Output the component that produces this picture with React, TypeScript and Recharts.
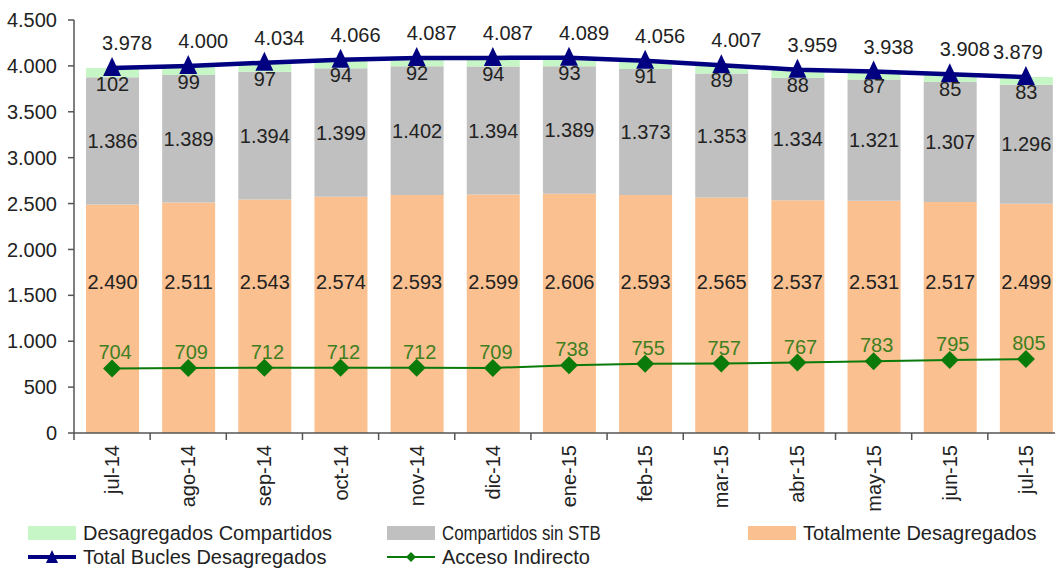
import React from 'react';
import { ComposedChart, Bar, Line, XAxis, YAxis, Legend, LabelList } from 'recharts';

const months = ['jul-14', 'ago-14', 'sep-14', 'oct-14', 'nov-14', 'dic-14', 'ene-15', 'feb-15', 'mar-15', 'abr-15', 'may-15', 'jun-15', 'jul-15'];
const totalmenteDesagregados = [2490, 2511, 2543, 2574, 2593, 2599, 2606, 2593, 2565, 2537, 2531, 2517, 2499];
const compartidosSinSTB = [1386, 1389, 1394, 1399, 1402, 1394, 1389, 1373, 1353, 1334, 1321, 1307, 1296];
const desagregadosCompartidos = [102, 99, 97, 94, 92, 94, 93, 91, 89, 88, 87, 85, 83];
const totalBucles = [3978, 4000, 4034, 4066, 4087, 4087, 4089, 4056, 4007, 3959, 3938, 3908, 3879];
const accesoIndirecto = [704, 709, 712, 712, 712, 709, 738, 755, 757, 767, 783, 795, 805];
const yTicks = [0, 500, 1000, 1500, 2000, 2500, 3000, 3500, 4000, 4500];

const data = months.map((m, i) => ({
  month: m,
  totalmente: totalmenteDesagregados[i],
  sinStb: compartidosSinSTB[i],
  compartidos: desagregadosCompartidos[i],
  total: totalBucles[i],
  acceso: accesoIndirecto[i],
}));

const CHART_W = 1064;
const CHART_H = 568;
const Y_AXIS_W = 74;
const PLOT_W = CHART_W - Y_AXIS_W;
const HALF_BAND = PLOT_W / months.length / 2;
const FONT = '"Liberation Sans", Arial, sans-serif';
const FS = 20;
const LABEL_LEVEL = 1650;

const C_PEACH = '#FAC090';
const C_GRAY = '#C0C0C0';
const C_LGREEN = '#C6F5C6';
const C_NAVY = '#000080';
const C_GREEN = '#0A7A0A';
const C_GREEN_LABEL = '#3F7F1F';
const C_TEXT = '#222';
const C_AXIS = '#555';

const fmt = (v: number) => String(Math.round(v)).replace(/\B(?=(\d{3})+(?!\d))/g, '.');

const PeachLabel = (p: any) => {
  const x = Number(p.x), y = Number(p.y), w = Number(p.width), h = Number(p.height), v = Number(p.value);
  const ly = y + h - (h * LABEL_LEVEL) / v;
  return (
    <text x={x + w / 2} y={ly} textAnchor="middle" dominantBaseline="central" fill={C_TEXT} fontSize={FS} fontFamily={FONT}>
      {fmt(v)}
    </text>
  );
};

const CenterLabel = (p: any) => {
  const x = Number(p.x), y = Number(p.y), w = Number(p.width), h = Number(p.height);
  return (
    <text x={x + w / 2} y={y + h / 2} textAnchor="middle" dominantBaseline="central" fill={C_TEXT} fontSize={FS} fontFamily={FONT}>
      {fmt(Number(p.value))}
    </text>
  );
};

const BelowLabel = (p: any) => {
  const x = Number(p.x), y = Number(p.y), w = Number(p.width), h = Number(p.height);
  return (
    <text x={x + w / 2} y={y + h + 7} textAnchor="middle" dominantBaseline="central" fill={C_TEXT} fontSize={FS} fontFamily={FONT}>
      {fmt(Number(p.value))}
    </text>
  );
};

const TotalLabel = (p: any) => {
  const x = Number(p.x), y = Number(p.y);
  const last = p.index === months.length - 1;
  return (
    <text x={last ? x - 8 : x + 15} y={y - 25} textAnchor="middle" dominantBaseline="central" fill={C_TEXT} fontSize={FS} fontFamily={FONT}>
      {fmt(Number(p.value))}
    </text>
  );
};

const AccesoLabel = (p: any) => {
  const x = Number(p.x), y = Number(p.y);
  return (
    <text x={x + 3} y={y - 16} textAnchor="middle" dominantBaseline="central" fill={C_GREEN_LABEL} fontSize={FS} fontFamily={FONT}>
      {fmt(Number(p.value))}
    </text>
  );
};

const TriangleDot = (p: any) => {
  const { cx, cy, index } = p;
  if (cx == null || cy == null) return <g key={`t${index}`} />;
  return <polygon key={`t${index}`} points={`${cx},${cy - 11} ${cx - 9},${cy + 8} ${cx + 9},${cy + 8}`} fill={C_NAVY} />;
};

const DiamondDot = (p: any) => {
  const { cx, cy, index } = p;
  if (cx == null || cy == null) return <g key={`d${index}`} />;
  const r = 9;
  return <polygon key={`d${index}`} points={`${cx},${cy - r} ${cx + r},${cy} ${cx},${cy + r} ${cx - r},${cy}`} fill={C_GREEN} />;
};

const XTick = (p: any) => {
  const { x, y, payload } = p;
  const ty = y + 12;
  return (
    <g>
      <line x1={x - HALF_BAND} x2={x - HALF_BAND} y1={y} y2={y + 7} stroke={C_AXIS} strokeWidth={1.5} />
      <text x={x} y={ty} transform={`rotate(-90 ${x} ${ty})`} textAnchor="end" dominantBaseline="central" fill={C_TEXT} fontSize={FS} fontFamily={FONT}>
        {payload.value}
      </text>
    </g>
  );
};

const Swatch = ({ color }: { color: string }) => (
  <svg width={48} height={14} style={{ display: 'block' }}>
    <rect x={0} y={0} width={48} height={14} fill={color} />
  </svg>
);

const LineIcon = ({ color, kind }: { color: string; kind: 'tri' | 'dia' }) => (
  <svg width={48} height={14} style={{ display: 'block' }}>
    <line x1={0} x2={48} y1={7} y2={7} stroke={color} strokeWidth={kind === 'tri' ? 4 : 2} />
    {kind === 'tri' ? (
      <polygon points="24,0 18,13 30,13" fill={color} />
    ) : (
      <polygon points="24,2 29,7 24,12 19,7" fill={color} />
    )}
  </svg>
);

const legendRow1 = [
  { name: 'Desagregados Compartidos', color: C_LGREEN, left: 28, squeeze: 1 },
  { name: 'Compartidos sin STB', color: C_GRAY, left: 387, squeeze: 0.84 },
  { name: 'Totalmente Desagregados', color: C_PEACH, left: 748, squeeze: 1 },
];
const legendRow2 = [
  { name: 'Total Bucles Desagregados', color: C_NAVY, left: 28, kind: 'tri' as const },
  { name: 'Acceso Indirecto', color: C_GREEN, left: 387, kind: 'dia' as const },
];

const CustomLegend = () => (
  <div style={{ position: 'relative', width: 1055, height: 55, fontFamily: FONT, fontSize: FS, color: C_TEXT }}>
    {legendRow1.map((it) => (
      <div key={it.name} style={{ position: 'absolute', left: it.left, top: 8, height: 24, display: 'flex', alignItems: 'center', whiteSpace: 'nowrap' }}>
        <Swatch color={it.color} />
        <span style={{ marginLeft: 7, display: 'inline-block', transform: `scaleX(${it.squeeze})`, transformOrigin: 'left center' }}>{it.name}</span>
      </div>
    ))}
    {legendRow2.map((it) => (
      <div key={it.name} style={{ position: 'absolute', left: it.left, top: 32, height: 24, display: 'flex', alignItems: 'center', whiteSpace: 'nowrap' }}>
        <LineIcon color={it.color} kind={it.kind} />
        <span style={{ marginLeft: 7 }}>{it.name}</span>
      </div>
    ))}
  </div>
);

export default function App() {
  return (
    <div style={{ width: 1055, height: 568, overflow: 'hidden', position: 'relative', background: '#fff' }}>
      <style>{`body{margin:0;}`}</style>
      <ComposedChart
        width={CHART_W}
        height={CHART_H}
        data={data}
        margin={{ top: 20, right: 0, bottom: 0, left: 0 }}
        style={{ fontFamily: FONT }}
      >
        <XAxis
          dataKey="month"
          height={80}
          interval={0}
          tickLine={false}
          tickSize={0}
          tickMargin={0}
          axisLine={{ stroke: C_AXIS, strokeWidth: 1.5 }}
          tick={<XTick />}
        />
        <YAxis
          width={Y_AXIS_W}
          domain={[0, 4500]}
          ticks={yTicks}
          interval={0}
          tickFormatter={fmt}
          tickSize={6}
          tickMargin={11}
          axisLine={{ stroke: C_AXIS, strokeWidth: 1.5 }}
          tickLine={{ stroke: C_AXIS, strokeWidth: 1.5 }}
          tick={{ fill: C_TEXT, fontSize: FS, fontFamily: FONT }}
        />
        <Legend verticalAlign="bottom" content={<CustomLegend />} wrapperStyle={{ left: 0, width: 1055, height: 55 }} />
        <Bar dataKey="totalmente" name="Totalmente Desagregados" stackId="a" fill={C_PEACH} barSize={53} isAnimationActive={false}>
          <LabelList dataKey="totalmente" content={<PeachLabel />} />
        </Bar>
        <Bar dataKey="sinStb" name="Compartidos sin STB" stackId="a" fill={C_GRAY} barSize={53} isAnimationActive={false}>
          <LabelList dataKey="sinStb" content={<CenterLabel />} />
        </Bar>
        <Bar dataKey="compartidos" name="Desagregados Compartidos" stackId="a" fill={C_LGREEN} barSize={53} isAnimationActive={false}>
          <LabelList dataKey="compartidos" content={<BelowLabel />} />
        </Bar>
        <Line
          dataKey="total"
          name="Total Bucles Desagregados"
          stroke={C_NAVY}
          strokeWidth={4.5}
          dot={<TriangleDot />}
          activeDot={false}
          isAnimationActive={false}
        >
          <LabelList dataKey="total" content={<TotalLabel />} />
        </Line>
        <Line
          dataKey="acceso"
          name="Acceso Indirecto"
          stroke={C_GREEN}
          strokeWidth={2}
          dot={<DiamondDot />}
          activeDot={false}
          isAnimationActive={false}
        >
          <LabelList dataKey="acceso" content={<AccesoLabel />} />
        </Line>
      </ComposedChart>
    </div>
  );
}
